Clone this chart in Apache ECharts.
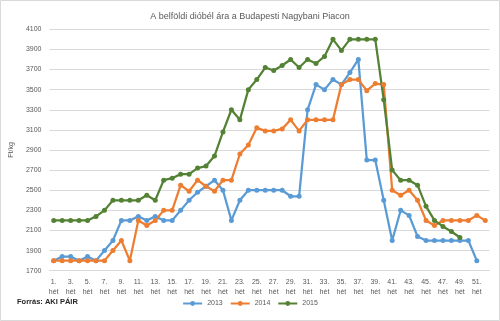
<!DOCTYPE html>
<html>
<head>
<meta charset="utf-8">
<script src="https://cdn.jsdelivr.net/npm/echarts@6/dist/echarts.min.js"></script>
<style>
html,body{margin:0;padding:0;background:#fff;}
#c{width:500px;height:321px;}
</style>
</head>
<body>
<div id="c"></div>
<script>
const weeks = Array.from({length: 52}, (_, i) => (i + 1) + '.\nhét');
const seriesNames = ['2013', '2014', '2015'];
const v2013 = [1800,1840,1840,1800,1840,1800,1900,2000,2200,2200,2240,2200,2240,2200,2200,2300,2400,2480,2540,2600,2500,2200,2400,2500,2500,2500,2500,2500,2440,2440,3300,3550,3500,3600,3550,3670,3800,2800,2800,2400,2000,2300,2250,2040,2000,2000,2000,2000,2000,2000,1800,null];
const v2014 = [1800,1800,1800,1800,1800,1800,1800,1900,2000,1800,2200,2150,2200,2300,2300,2550,2490,2600,2540,2490,2600,2600,2860,2950,3120,3090,3090,3110,3200,3090,3200,3200,3200,3200,3550,3600,3600,3490,3560,3550,2500,2450,2500,2400,2200,2150,2200,2200,2200,2200,2250,2200];
const v2015 = [2200,2200,2200,2200,2200,2240,2300,2400,2400,2400,2400,2450,2400,2600,2620,2660,2660,2720,2740,2840,3080,3300,3200,3500,3600,3720,3690,3740,3800,3720,3800,3760,3830,4000,3890,4000,4000,4000,4000,3400,2700,2600,2600,2550,2340,2200,2140,2090,2030,null,null,null];
const colors = ['#5B9BD5', '#ED7D31', '#548235'];
const font = 'Liberation Sans';

const chart = echarts.init(document.getElementById('c'), null, {renderer: 'canvas'});
const mk = (name, data, color) => ({
  name, type: 'line', data,
  symbol: 'circle', symbolSize: 5,
  lineStyle: {width: 2.25, color},
  itemStyle: {color},
  connectNulls: false,
  animation: false
});
chart.setOption({
  animation: false,
  textStyle: {fontFamily: font},
  title: {
    text: 'A belföldi dióbél ára a Budapesti Nagybani Piacon',
    left: 'center', top: 7,
    textStyle: {fontSize: 9, fontWeight: 'normal', color: '#595959', fontFamily: font}
  },
  graphic: [
    {type: 'rect', shape: {x: 0.5, y: 0.5, width: 499, height: 320}, style: {fill: 'none', stroke: '#d9d9d9', lineWidth: 1}, silent: true},
    {type: 'text', left: 17, top: 298, style: {text: 'Forrás: AKI PÁIR', font: 'bold 7.5px "Liberation Sans"', fill: '#262626'}}
  ],
  legend: {
    data: seriesNames,
    bottom: 9, left: 'center',
    itemWidth: 19, itemHeight: 6, itemGap: 7,
    textStyle: {fontSize: 7, color: '#595959', fontFamily: font}
  },
  grid: {left: 47, right: 10.5, top: 29.3, bottom: 50.3, containLabel: false},
  xAxis: {
    type: 'category', data: weeks, boundaryGap: true,
    axisLine: {show: true, lineStyle: {color: '#d9d9d9'}},
    axisTick: {show: false},
    axisLabel: {interval: 1, fontSize: 7, color: '#595959', lineHeight: 10, margin: 6, fontFamily: font}
  },
  yAxis: {
    type: 'value', min: 1700, max: 4100, interval: 200,
    name: 'Ft/kg', nameLocation: 'middle', nameGap: 29, nameRotate: 90,
    nameTextStyle: {fontSize: 7, color: '#595959', fontFamily: font},
    axisLine: {show: false}, axisTick: {show: false},
    axisLabel: {fontSize: 7, color: '#595959', margin: 8, fontFamily: font, formatter: v => String(v)},
    splitLine: {lineStyle: {color: '#d9d9d9', width: 1}}
  },
  series: [
    mk(seriesNames[0], v2013, colors[0]),
    mk(seriesNames[1], v2014, colors[1]),
    mk(seriesNames[2], v2015, colors[2])
  ]
});
</script>
</body>
</html>
